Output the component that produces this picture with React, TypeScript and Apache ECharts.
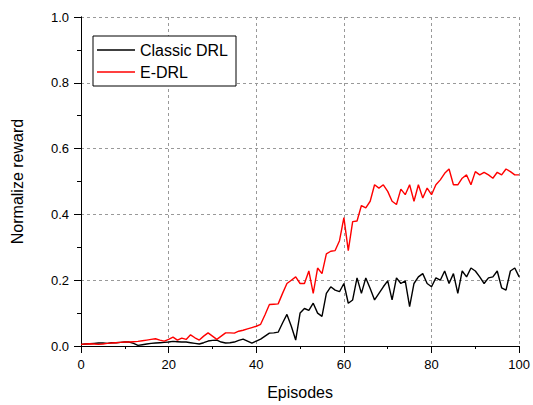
import React, { useEffect, useRef } from "react";
import * as echarts from "echarts";

const episodes: number[] = Array.from({ length: 101 }, (_, i) => i);

const classicDRL: number[] = [
  0.005, 0.006, 0.007, 0.008, 0.009, 0.009, 0.008, 0.01, 0.01, 0.011,
  0.012, 0.012, 0.008, 0.002, 0.004, 0.006, 0.008, 0.009, 0.01, 0.011,
  0.012, 0.014, 0.013, 0.012, 0.012, 0.01, 0.008, 0.006, 0.01, 0.015,
  0.017, 0.018, 0.012, 0.009, 0.01, 0.012, 0.017, 0.021, 0.015, 0.009,
  0.015, 0.021, 0.03, 0.039, 0.04, 0.042, 0.07, 0.096, 0.06, 0.018,
  0.1, 0.114, 0.108, 0.13, 0.1, 0.09, 0.16, 0.18, 0.17, 0.165,
  0.19, 0.13, 0.14, 0.207, 0.16, 0.207, 0.175, 0.14, 0.16, 0.18,
  0.198, 0.14, 0.207, 0.19, 0.198, 0.12, 0.19, 0.21, 0.22, 0.19,
  0.18, 0.207, 0.2, 0.228, 0.19, 0.22, 0.16, 0.228, 0.21, 0.237,
  0.228, 0.21, 0.19, 0.207, 0.21, 0.228, 0.177, 0.17, 0.228, 0.237,
  0.21,
];

const eDRL: number[] = [
  0.005, 0.006, 0.007, 0.006, 0.005, 0.006, 0.008, 0.009, 0.01, 0.011,
  0.012, 0.012, 0.013, 0.014, 0.016, 0.018, 0.02, 0.022, 0.018, 0.015,
  0.02, 0.027, 0.018, 0.024, 0.02, 0.034, 0.025, 0.018, 0.03, 0.04,
  0.03, 0.02, 0.03, 0.04, 0.04, 0.039, 0.045, 0.048, 0.052, 0.056,
  0.06, 0.066, 0.095, 0.126, 0.127, 0.128, 0.16, 0.19, 0.2, 0.21,
  0.19, 0.19, 0.228, 0.16, 0.237, 0.22, 0.28, 0.288, 0.29, 0.32,
  0.39, 0.29, 0.378, 0.38, 0.427, 0.42, 0.44, 0.49, 0.48, 0.49,
  0.47, 0.44, 0.43, 0.477, 0.46, 0.49, 0.44, 0.49, 0.45, 0.48,
  0.46, 0.49, 0.505, 0.525, 0.538, 0.49, 0.49, 0.51, 0.52, 0.49,
  0.53, 0.52, 0.528, 0.52, 0.51, 0.528, 0.52, 0.538, 0.53, 0.52,
  0.52,
];

const seriesNames = ["Classic DRL", "E-DRL"];
const FONT = "Liberation Sans";

export default function App() {
  const ref = useRef<HTMLDivElement>(null);
  useEffect(() => {
    if (!ref.current) return;
    const chart = echarts.init(ref.current, null, { renderer: "svg" });
    const axisLine = { show: true, lineStyle: { color: "#000", width: 1 } };
    const split = { show: true, lineStyle: { color: "#999", type: [3, 3] as any, width: 1 } };
    chart.setOption({
      animation: false,
      backgroundColor: "#fff",
      grid: { left: 81, right: 12, top: 17, bottom: 55, containLabel: false },
      legend: {
        orient: "vertical",
        left: 93,
        top: 36,
        backgroundColor: "#fff",
        borderColor: "#000",
        borderWidth: 1,
        borderRadius: 0,
        padding: [6, 8, 6, 4],
        icon: "rect",
        itemWidth: 38,
        itemHeight: 1.5,
        itemGap: 6,
        textStyle: { fontFamily: FONT, fontSize: 16, color: "#000", padding: [0, 0, 0, 0] },
        data: seriesNames,
      },
      xAxis: [
        {
          type: "value",
          min: 0,
          max: 100,
          interval: 20,
          position: "bottom",
          name: "Episodes",
          nameLocation: "middle",
          nameGap: 38,
          nameTextStyle: { fontFamily: FONT, fontSize: 16, color: "#000" },
          axisLine,
          axisTick: { show: true, inside: false, length: 7, lineStyle: { color: "#000" } },
          minorTick: { show: true, splitNumber: 2, length: 3, lineStyle: { color: "#000" } },
          axisLabel: { fontFamily: FONT, fontSize: 13, color: "#000", margin: 12 },
          splitLine: split,
        },
        {
          type: "value",
          min: 0,
          max: 100,
          interval: 20,
          position: "top",
          axisLine,
          axisTick: { show: true, inside: true, length: 6, lineStyle: { color: "#000" } },
          minorTick: { show: true, splitNumber: 2, length: 3, lineStyle: { color: "#000" } },
          axisLabel: { show: false },
          splitLine: { show: false },
        },
      ],
      yAxis: [
        {
          type: "value",
          min: 0,
          max: 1,
          interval: 0.2,
          position: "left",
          name: "Normalize reward",
          nameLocation: "middle",
          nameGap: 56,
          nameTextStyle: { fontFamily: FONT, fontSize: 16, color: "#000" },
          axisLine,
          axisTick: { show: true, inside: false, length: 7, lineStyle: { color: "#000" } },
          minorTick: { show: true, splitNumber: 2, length: 4, lineStyle: { color: "#000" } },
          axisLabel: {
            fontFamily: FONT,
            fontSize: 13,
            color: "#000",
            margin: 12,
            formatter: (v: number) => v.toFixed(1),
          },
          splitLine: split,
        },
        {
          type: "value",
          min: 0,
          max: 1,
          interval: 0.2,
          position: "right",
          axisLine,
          axisTick: { show: true, inside: true, length: 7, lineStyle: { color: "#000" } },
          minorTick: { show: true, splitNumber: 2, length: 4, lineStyle: { color: "#000" } },
          axisLabel: { show: false },
          splitLine: { show: false },
        },
      ],
      series: [
        {
          name: seriesNames[0],
          type: "line",
          xAxisIndex: 0,
          yAxisIndex: 0,
          symbol: "none",
          lineStyle: { color: "#000", width: 1.4 },
          itemStyle: { color: "#000" },
          data: episodes.map((e, i) => [e, classicDRL[i]]),
          z: 3,
        },
        {
          name: seriesNames[1],
          type: "line",
          xAxisIndex: 0,
          yAxisIndex: 0,
          symbol: "none",
          lineStyle: { color: "#ff0000", width: 1.4 },
          itemStyle: { color: "#ff0000" },
          data: episodes.map((e, i) => [e, eDRL[i]]),
          z: 4,
        },
      ],
    });
    return () => chart.dispose();
  }, []);
  return <div ref={ref} style={{ width: 533, height: 405, position: "absolute", left: 0, top: 0 }} />;
}
